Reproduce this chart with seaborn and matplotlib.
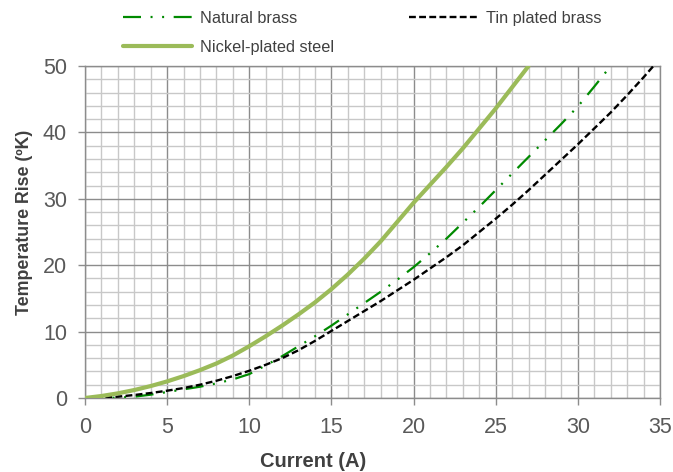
import numpy as np
import pandas as pd
import matplotlib
matplotlib.use("Agg")
import matplotlib.pyplot as plt
import seaborn as sns
from matplotlib.ticker import MultipleLocator

# ---- data ----
nickel_x = [0, 1, 2, 3, 4, 5, 6, 7, 8, 9, 10, 11, 12, 13, 14, 15, 16, 17, 18, 19,
            20, 21, 22, 23, 24, 25, 26, 27]
nickel_y = [0, 0.3, 0.7, 1.2, 1.8, 2.5, 3.3, 4.2, 5.2, 6.4, 7.8, 9.3, 10.9, 12.6,
            14.4, 16.4, 18.6, 21.0, 23.6, 26.5, 29.4, 32.1, 34.8, 37.6, 40.6, 43.6,
            46.8, 50.0]

natural_x = [0, 1, 2, 3, 4, 5, 6, 7, 8, 9, 10, 11, 12, 13, 14, 15, 16, 17, 18, 19,
             20, 21, 22, 23, 24, 25, 26, 27, 28, 29, 30, 31, 32]
natural_y = [0, 0, 0.05, 0.2, 0.5, 0.9, 1.3, 1.7, 2.2, 2.8, 3.6, 4.9, 6.3, 7.8, 9.3,
             10.9, 12.6, 14.3, 16.0, 17.8, 19.7, 21.8, 24.0, 26.4, 28.8, 31.3, 33.8,
             36.3, 38.8, 41.3, 43.9, 46.9, 50.0]

tin_x = [0, 1, 2, 3, 4, 5, 6, 7, 8, 9, 10, 11, 12, 13, 14, 15, 16, 17, 18, 19, 20,
         21, 22, 23, 24, 25, 26, 27, 28, 29, 30, 31, 32, 33, 34, 34.6]
tin_y = [0, 0.05, 0.2, 0.45, 0.75, 1.1, 1.5, 2.0, 2.6, 3.3, 4.1, 5.0, 6.0, 7.2, 8.6,
         10.1, 11.6, 13.1, 14.6, 16.2, 17.8, 19.5, 21.2, 23.0, 25.0, 27.0, 29.1,
         31.3, 33.6, 35.9, 38.2, 40.6, 43.0, 45.6, 48.3, 50.0]

x_ticks = [0, 5, 10, 15, 20, 25, 30, 35]
y_ticks = [0, 10, 20, 30, 40, 50]

sns.set_theme(style="white")
plt.rcParams['font.family'] = ['Liberation Sans', 'DejaVu Sans']

W, H = 673, 472
fig = plt.figure(figsize=(W / 100, H / 100), dpi=100)
ax = fig.add_axes([85 / W, 74 / H, 575 / W, 332 / H])

df_nat = pd.DataFrame({"x": natural_x, "y": natural_y})
df_tin = pd.DataFrame({"x": tin_x, "y": tin_y})
df_nic = pd.DataFrame({"x": nickel_x, "y": nickel_y})

sns.lineplot(data=df_nat, x="x", y="y", ax=ax, color="#008A00", lw=1.6,
             label="Natural brass", sort=False, zorder=4)
sns.lineplot(data=df_nic, x="x", y="y", ax=ax, color="#9BBB59", lw=3.0,
             label="Nickel-plated steel", sort=False, zorder=5)
sns.lineplot(data=df_tin, x="x", y="y", ax=ax, color="black", lw=1.7,
             label="Tin plated brass", sort=False, zorder=4)
lines = ax.get_lines()
lines[0].set_linestyle((0, (8.1, 4.3, 0.9, 4.3, 0.9, 4.3)))
lines[2].set_linestyle((0, (2.9, 1.4)))
for ln in lines:
    ln.set_solid_joinstyle("round")
    ln.set_dash_joinstyle("round")

ax.set_xlim(0, 35)
ax.set_ylim(0, 50)
ax.set_xticks(x_ticks)
ax.set_yticks(y_ticks)
ax.xaxis.set_minor_locator(MultipleLocator(1))
ax.yaxis.set_minor_locator(MultipleLocator(2))
ax.grid(which="minor", color="#C8C8C8", lw=1.0, zorder=0)
ax.grid(which="major", color="#8C8C8C", lw=1.0, zorder=1)
ax.set_axisbelow(True)

for s in ax.spines.values():
    s.set_color("#8C8C8C")
    s.set_linewidth(1.0)

ax.tick_params(axis="both", which="major", direction="out", length=5, width=1,
               color="#8C8C8C", labelsize=15.5, labelcolor="#595959",
               bottom=True, left=True)
ax.tick_params(axis="x", which="major", pad=8.5)
ax.tick_params(axis="y", which="major", pad=8)
ax.tick_params(axis="both", which="minor", length=0)

ax.set_xlabel("Current (A)", fontsize=14.5, fontweight="bold", color="#404040")
ax.set_ylabel("Temperature Rise (ºK)", fontsize=12.8, fontweight="bold",
              color="#404040")
ax.xaxis.set_label_coords(0.397, -0.163)
ax.yaxis.set_label_coords(-0.09, 0.53)

h, l = ax.get_legend_handles_labels()
if ax.get_legend() is not None:
    ax.get_legend().remove()
leg = fig.legend(h, l, ncol=2, loc="upper left",
                 bbox_to_anchor=(123 / W, 1 - 11 / H),
                 bbox_transform=fig.transFigure,
                 frameon=False, fontsize=11.7, handlelength=4.25,
                 columnspacing=4.6, labelspacing=0.84, handletextpad=0.5,
                 borderpad=0, borderaxespad=0)
for t in leg.get_texts():
    t.set_color("#404040")

fig.savefig("out.png", dpi=100)
